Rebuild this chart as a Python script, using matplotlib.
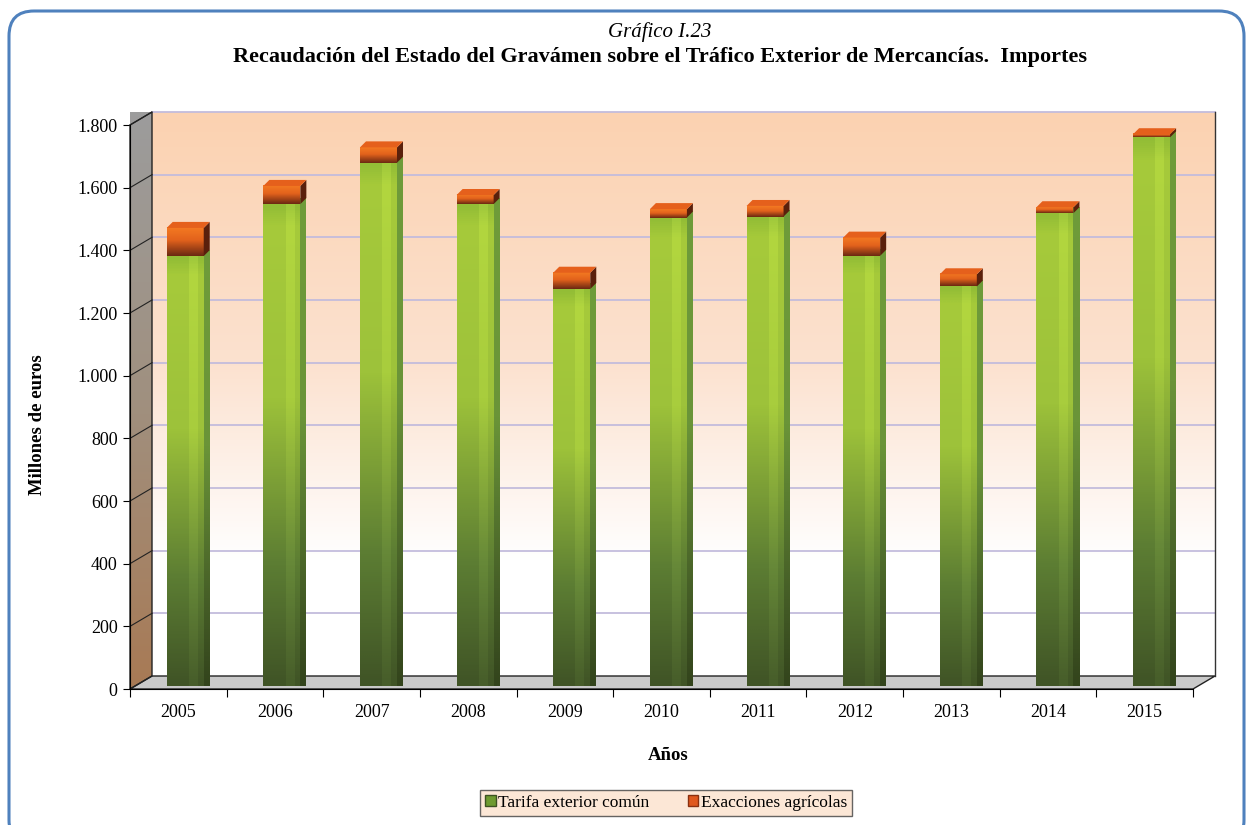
import numpy as np
import matplotlib
matplotlib.use('Agg')
import matplotlib.pyplot as plt
from matplotlib.patches import Polygon, Patch, FancyBboxPatch
from matplotlib.colors import LinearSegmentedColormap

# data (millones de euros)
years = ['2005', '2006', '2007', '2008', '2009', '2010', '2011', '2012', '2013', '2014', '2015']
tarifa = [1372, 1538, 1670, 1538, 1267, 1495, 1498, 1373, 1275, 1509, 1751]
exacciones = [90, 58, 49, 29, 52, 27, 34, 58, 39, 19, 10]
yticks = [0, 200, 400, 600, 800, 1000, 1200, 1400, 1600, 1800]

plt.rcParams['font.family'] = ['Liberation Serif', 'DejaVu Serif']

W, H = 1252, 825
fig = plt.figure(figsize=(W / 100, H / 100), dpi=100)

# rounded blue frame round the whole figure
frame = FancyBboxPatch((9 / W, -20 / H), 1235 / W, 834 / H,
                       boxstyle='round,pad=0,rounding_size=0.02',
                       transform=fig.transFigure, fill=False,
                       edgecolor='#4F81BD', linewidth=2.2, mutation_aspect=W / H)
fig.patches.append(frame)

fig.text(0.527, 1 - 32 / H, 'Gráfico I.23', ha='center', va='center',
         fontsize=15, style='italic')
fig.text(0.527, 1 - 57 / H,
         'Recaudación del Estado del Gravámen sobre el Tráfico Exterior de Mercancías.  Importes',
         ha='center', va='center', fontsize=16, fontweight='bold')

# front plane of the 3D box
x0, x1, ytop, ybot = 130, 1193, 125, 689
ax = fig.add_axes([x0 / W, (H - ybot) / H, (x1 - x0) / W, (ybot - ytop) / H])
ncat = len(years)
xmin, xmax, ymax = -0.5, ncat - 0.5, 1800
pxc = (x1 - x0) / ncat          # px per category
pxv = (ybot - ytop) / ymax      # px per unit
dx, dy = 22 / pxc, 13 / pxv     # depth of the box


def grad(extent, stops, z, clip=None):
    # stops: list of (pos from top 0..1, colour)
    cmap = LinearSegmentedColormap.from_list('g', [(1 - p, c) for p, c in stops][::-1])
    arr = np.linspace(1, 0, 128).reshape(-1, 1)
    im = ax.imshow(arr, cmap=cmap, extent=extent, aspect='auto', vmin=0, vmax=1,
                   interpolation='bilinear', zorder=z, clip_on=False)
    if clip is not None:
        im.set_clip_path(clip)
    return im


green_front = [(0, '#93BD36'), (0.04, '#A6CA3A'), (0.4, '#9DC23A'),
               (0.75, '#5C7D33'), (1, '#405426')]
green_light = [(0, '#A0C93C'), (0.04, '#B2D63F'), (0.4, '#A8CD3D'),
               (0.75, '#668838'), (1, '#475D2A')]
green_side = [(0, '#6F9C3A'), (0.45, '#6A9438'), (0.8, '#465F27'), (1, '#33441C')]
orange_front = [(0, '#F47A22'), (0.45, '#E2621C'), (1, '#6A2812')]

# back wall
grad((xmin + dx, xmax + dx, dy, ymax + dy),
     [(0, '#FBD2B1'), (0.45, '#FCE2D0'), (0.8, '#FFFFFF'), (1, '#FFFFFF')], 0)
for v in yticks[1:]:
    ax.plot([xmin + dx, xmax + dx], [v + dy, v + dy], color='#C3BCDC',
            lw=1.3, zorder=1, clip_on=False)
    ax.plot([xmin, xmin + dx], [v, v + dy], color='#222222', lw=0.8,
            zorder=3, clip_on=False)
ax.plot([xmax + dx, xmax + dx], [dy, ymax + dy], color='#333333', lw=1,
        zorder=1, clip_on=False)

# left wall
lw_poly = Polygon([(xmin, 0), (xmin + dx, dy), (xmin + dx, ymax + dy), (xmin, ymax)],
                  closed=True, facecolor='none', edgecolor='#222222', lw=1,
                  zorder=3, clip_on=False)
ax.add_patch(lw_poly)
grad((xmin, xmin + dx, 0, ymax + dy),
     [(0, '#9C9C9C'), (0.5, '#A0907F'), (1, '#A87A55')], 2, clip=lw_poly)

# floor
ax.add_patch(Polygon([(xmin, 0), (xmin + dx, dy), (xmax + dx, dy), (xmax, 0)],
                     closed=True, facecolor='#C9C9C9', edgecolor='#222222',
                     lw=1, zorder=2, clip_on=False))

# bars
bl, bw = -0.12, 37 / pxc
bdx, bdy = 6 / pxc, 6 / pxv
fy = 3 / pxv
for i in range(ncat):
    xl, xr = i + bl, i + bl + bw
    g0, g1 = fy, fy + tarifa[i]
    e1 = g1 + exacciones[i]
    # green front and side
    grad((xl, xr, g0, g1), green_front, 5)
    grad((xl + bw * 0.6, xl + bw * 0.82, g0, g1), green_light, 5.1)
    side = Polygon([(xr, g0), (xr + bdx, g0 + bdy), (xr + bdx, g1 + bdy), (xr, g1)],
                   closed=True, facecolor='none', edgecolor='none', zorder=5)
    ax.add_patch(side)
    grad((xr, xr + bdx, g0, g1 + bdy), green_side, 5, clip=side)
    # orange front, side and top
    grad((xl, xr, g1, e1), orange_front, 5.2)
    ax.add_patch(Polygon([(xr, g1), (xr + bdx, g1 + bdy), (xr + bdx, e1 + bdy), (xr, e1)],
                         closed=True, facecolor='#5A200C', edgecolor='none', zorder=5.2))
    ax.add_patch(Polygon([(xl, e1), (xl + bdx, e1 + bdy), (xr + bdx, e1 + bdy), (xr, e1)],
                         closed=True, facecolor='#E5601C', edgecolor='none', zorder=5.3))

ax.set_xlim(xmin, xmax)
ax.set_ylim(0, ymax)
ax.patch.set_visible(False)
for s in ['top', 'right']:
    ax.spines[s].set_visible(False)
ax.spines['left'].set_zorder(6)
ax.spines['bottom'].set_zorder(6)

ax.set_yticks(yticks)
ax.set_yticklabels(['{:,}'.format(v).replace(',', '.') for v in yticks], fontsize=13)
ax.tick_params(axis='y', direction='out', length=5, pad=4)
ax.set_xticks(np.arange(xmin, xmax + 0.01, 1))
ax.set_xticklabels([])
ax.tick_params(axis='x', which='major', direction='out', length=6)
ax.set_xticks(np.arange(ncat), minor=True)
ax.set_xticklabels(years, minor=True, fontsize=13)
ax.tick_params(axis='x', which='minor', length=0, pad=11)

fig.text(37 / W, 1 - 425 / H, 'Millones de euros', rotation=90, ha='center',
         va='center', fontsize=13.5, fontweight='bold')
fig.text(668 / W, 1 - 755 / H, 'Años', ha='center', va='center',
         fontsize=13.5, fontweight='bold')

handles = [Patch(facecolor='#6E9B30', edgecolor='#3D5222'),
           Patch(facecolor='#E0581E', edgecolor='#8A3010')]
leg = fig.legend(handles, ['Tarifa exterior común', 'Exacciones agrícolas'],
                 loc='center', bbox_to_anchor=(666 / W, 22 / H), ncol=2,
                 fontsize=12.5, frameon=True, fancybox=False, handlelength=0.6,
                 handleheight=0.6, handletextpad=0.15, columnspacing=2.2,
                 borderpad=0.3, borderaxespad=0)
leg.get_frame().set_facecolor('#FCE2CC')
leg.get_frame().set_edgecolor('#404040')
leg.get_frame().set_linewidth(1)

fig.savefig('out.png', dpi=100)
